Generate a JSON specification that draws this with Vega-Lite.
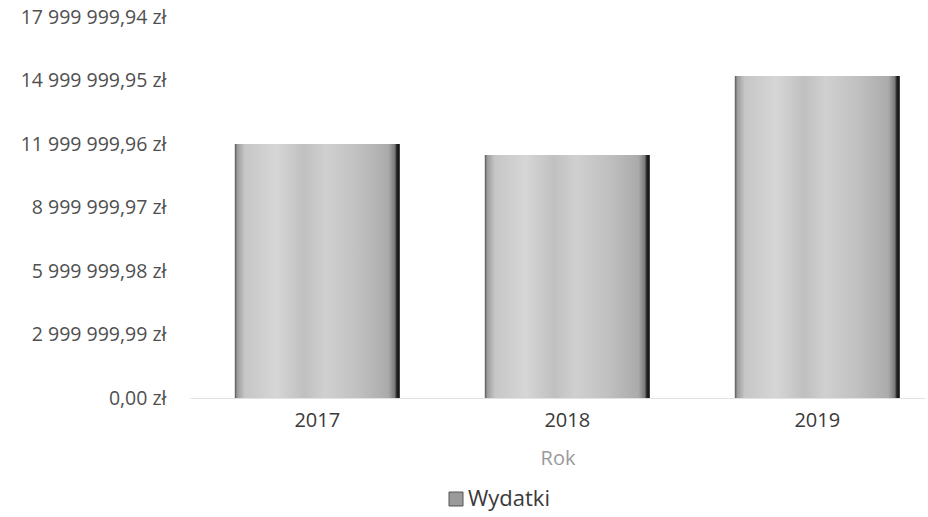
{
  "$schema": "https://vega.github.io/schema/vega-lite/v6.json",
  "autosize": "none",
  "width": 735,
  "height": 381,
  "padding": {"left": 190, "top": 17, "right": 3, "bottom": 119},
  "background": "white",
  "config": {
    "view": {"stroke": null},
    "font": "Open Sans"
  },
  "data": {
    "values": [
      {"Rok": "2017", "Wydatki": 12000000, "Seria": "Wydatki"},
      {"Rok": "2018", "Wydatki": 11480000, "Seria": "Wydatki"},
      {"Rok": "2019", "Wydatki": 15210000, "Seria": "Wydatki"}
    ]
  },
  "mark": {
    "type": "bar",
    "fill": {
      "gradient": "linear",
      "x1": 0, "x2": 1, "y1": 0, "y2": 0,
      "stops": [
        {"offset": 0, "color": "#555555"},
        {"offset": 0.015, "color": "#9c9c9c"},
        {"offset": 0.06, "color": "#c6c6c6"},
        {"offset": 0.25, "color": "#d6d6d6"},
        {"offset": 0.42, "color": "#c0c0c0"},
        {"offset": 0.55, "color": "#d0d0d0"},
        {"offset": 0.75, "color": "#c0c0c0"},
        {"offset": 0.93, "color": "#ababab"},
        {"offset": 0.97, "color": "#7a7a7a"},
        {"offset": 0.982, "color": "#222222"},
        {"offset": 1, "color": "#111111"}
      ]
    }
  },
  "encoding": {
    "x": {
      "field": "Rok",
      "type": "nominal",
      "scale": {"paddingInner": 0.34, "paddingOuter": 0.14, "align": 0.64},
      "axis": {
        "title": "Rok",
        "labelAngle": 0,
        "labelFontSize": 20,
        "labelColor": "#3a3a3a",
        "labelPadding": 12,
        "ticks": false,
        "domainColor": "#e2e2e2",
        "domainWidth": 1,
        "titleFontSize": 20,
        "titleFontWeight": "normal",
        "titleColor": "#9a9a9a",
        "titlePadding": 18
      }
    },
    "y": {
      "field": "Wydatki",
      "type": "quantitative",
      "scale": {"domain": [0, 17999999.94], "nice": false, "zero": true},
      "axis": {
        "title": null,
        "values": [0, 2999999.99, 5999999.98, 8999999.97, 11999999.96, 14999999.95, 17999999.94],
        "labelExpr": "replace(replace(format(datum.value, ',.2f'), regexp(',', 'g'), ' '), '.', ',') + ' zł'",
        "labelFontSize": 19.5,
        "labelColor": "#505050",
        "labelPadding": 24,
        "ticks": false,
        "domain": false,
        "grid": false
      }
    },
    "color": {
      "field": "Seria",
      "type": "nominal",
      "scale": {"range": ["#9a9a9a"]},
      "legend": {
        "title": null,
        "orient": "none",
        "legendX": 255,
        "legendY": 471,
        "symbolType": "square",
        "symbolSize": 196,
        "symbolStrokeColor": "#555555",
        "symbolStrokeWidth": 1,
        "labelFontSize": 22,
        "labelColor": "#3a3a3a",
        "labelOffset": 1
      }
    }
  }
}
